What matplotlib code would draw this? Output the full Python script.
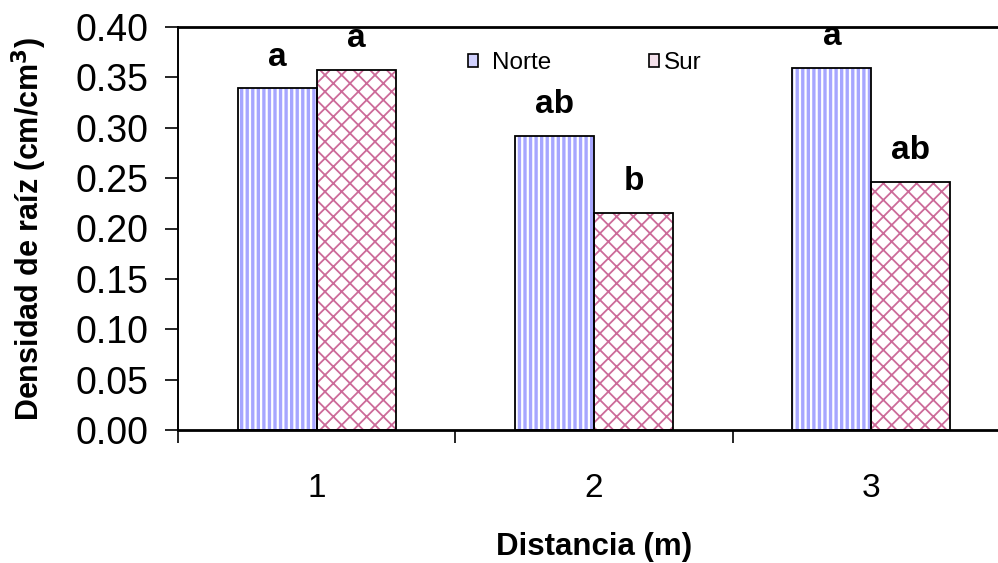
import matplotlib.pyplot as plt
import numpy as np
from matplotlib.patches import Patch

categories = ['1', '2', '3']
norte = [0.339, 0.292, 0.359]
sur = [0.357, 0.215, 0.246]
norte_letters = ['a', 'ab', 'a']
sur_letters = ['a', 'b', 'ab']
series = ['Norte', 'Sur']

plt.rcParams['font.family'] = ['Liberation Sans', 'DejaVu Sans']
plt.rcParams['hatch.linewidth'] = 2.4

fig = plt.figure(figsize=(9.98, 5.63), dpi=100)
ax = fig.add_axes([178 / 998, 1 - 430 / 563, 832 / 998, 403 / 563])

x = np.arange(len(categories))
w = 0.285
blue = '#a6a6ff'
pink = '#cc6b99'

# hatched fills first, then black outlines on top
ax.bar(x - w / 2, norte, w, color='white', edgecolor=blue, hatch='|||', linewidth=0)
plt.rcParams['hatch.linewidth'] = 1.3
ax.bar(x + w / 2, sur, w, color='white', edgecolor=pink, hatch='xx', linewidth=0)
ax.bar(x - w / 2, norte, w, fill=False, edgecolor='black', linewidth=1.3)
ax.bar(x + w / 2, sur, w, fill=False, edgecolor='black', linewidth=1.3)

for xi, v, t in zip(x - w / 2, norte, norte_letters):
    ax.annotate(t, (xi, v), xytext=(0, 16.5), textcoords='offset points',
                ha='center', va='baseline', fontsize=24, fontweight='bold')
for xi, v, t in zip(x + w / 2, sur, sur_letters):
    ax.annotate(t, (xi, v), xytext=(0, 16.5), textcoords='offset points',
                ha='center', va='baseline', fontsize=24, fontweight='bold')

# legend, one box per entry (Excel-like spacing)
h1 = Patch(facecolor='#d2d2ff', edgecolor='black', linewidth=1.2)
h2 = Patch(facecolor='#f3e0ea', edgecolor='black', linewidth=1.2)
leg1 = fig.legend([h1], [series[0]], frameon=False, fontsize=17.5,
                  loc='center left', bbox_to_anchor=(468 / 998, 1 - 63 / 563),
                  handlelength=0.42, handleheight=0.42, handletextpad=0.55,
                  borderpad=0, borderaxespad=0)
leg2 = fig.legend([h2], [series[1]], frameon=False, fontsize=17.5,
                  loc='center left', bbox_to_anchor=(649 / 998, 1 - 63 / 563),
                  handlelength=0.42, handleheight=0.42, handletextpad=0.2,
                  borderpad=0, borderaxespad=0)

ax.set_xlim(-0.5, 2.5)
ax.set_ylim(0, 0.40)
yt = np.arange(0, 0.401, 0.05)
ax.set_yticks(yt)
ax.set_yticklabels(['%.2f' % v for v in yt], fontsize=27)
ax.set_xticks(x)
ax.set_xticklabels(categories, fontsize=24)
ax.set_xticks(np.arange(-0.5, 2.6, 1), minor=True)
ax.tick_params(axis='x', which='major', length=0, pad=31)
ax.tick_params(axis='x', which='minor', length=9, width=1.2, direction='out')
ax.tick_params(axis='y', length=9.5, width=1.2, direction='out', pad=12)

ax.spines['right'].set_visible(False)
ax.spines['left'].set_linewidth(1.4)
ax.spines['bottom'].set_linewidth(2)
ax.spines['top'].set_linewidth(2)

ax.set_ylabel('Densidad de raíz (cm/cm$^\\mathbf{3}$)', fontsize=22, fontweight='bold', labelpad=19)
ax.set_xlabel('Distancia (m)', fontsize=22.5, fontweight='bold', labelpad=20)

fig.savefig('out.png', dpi=100)
